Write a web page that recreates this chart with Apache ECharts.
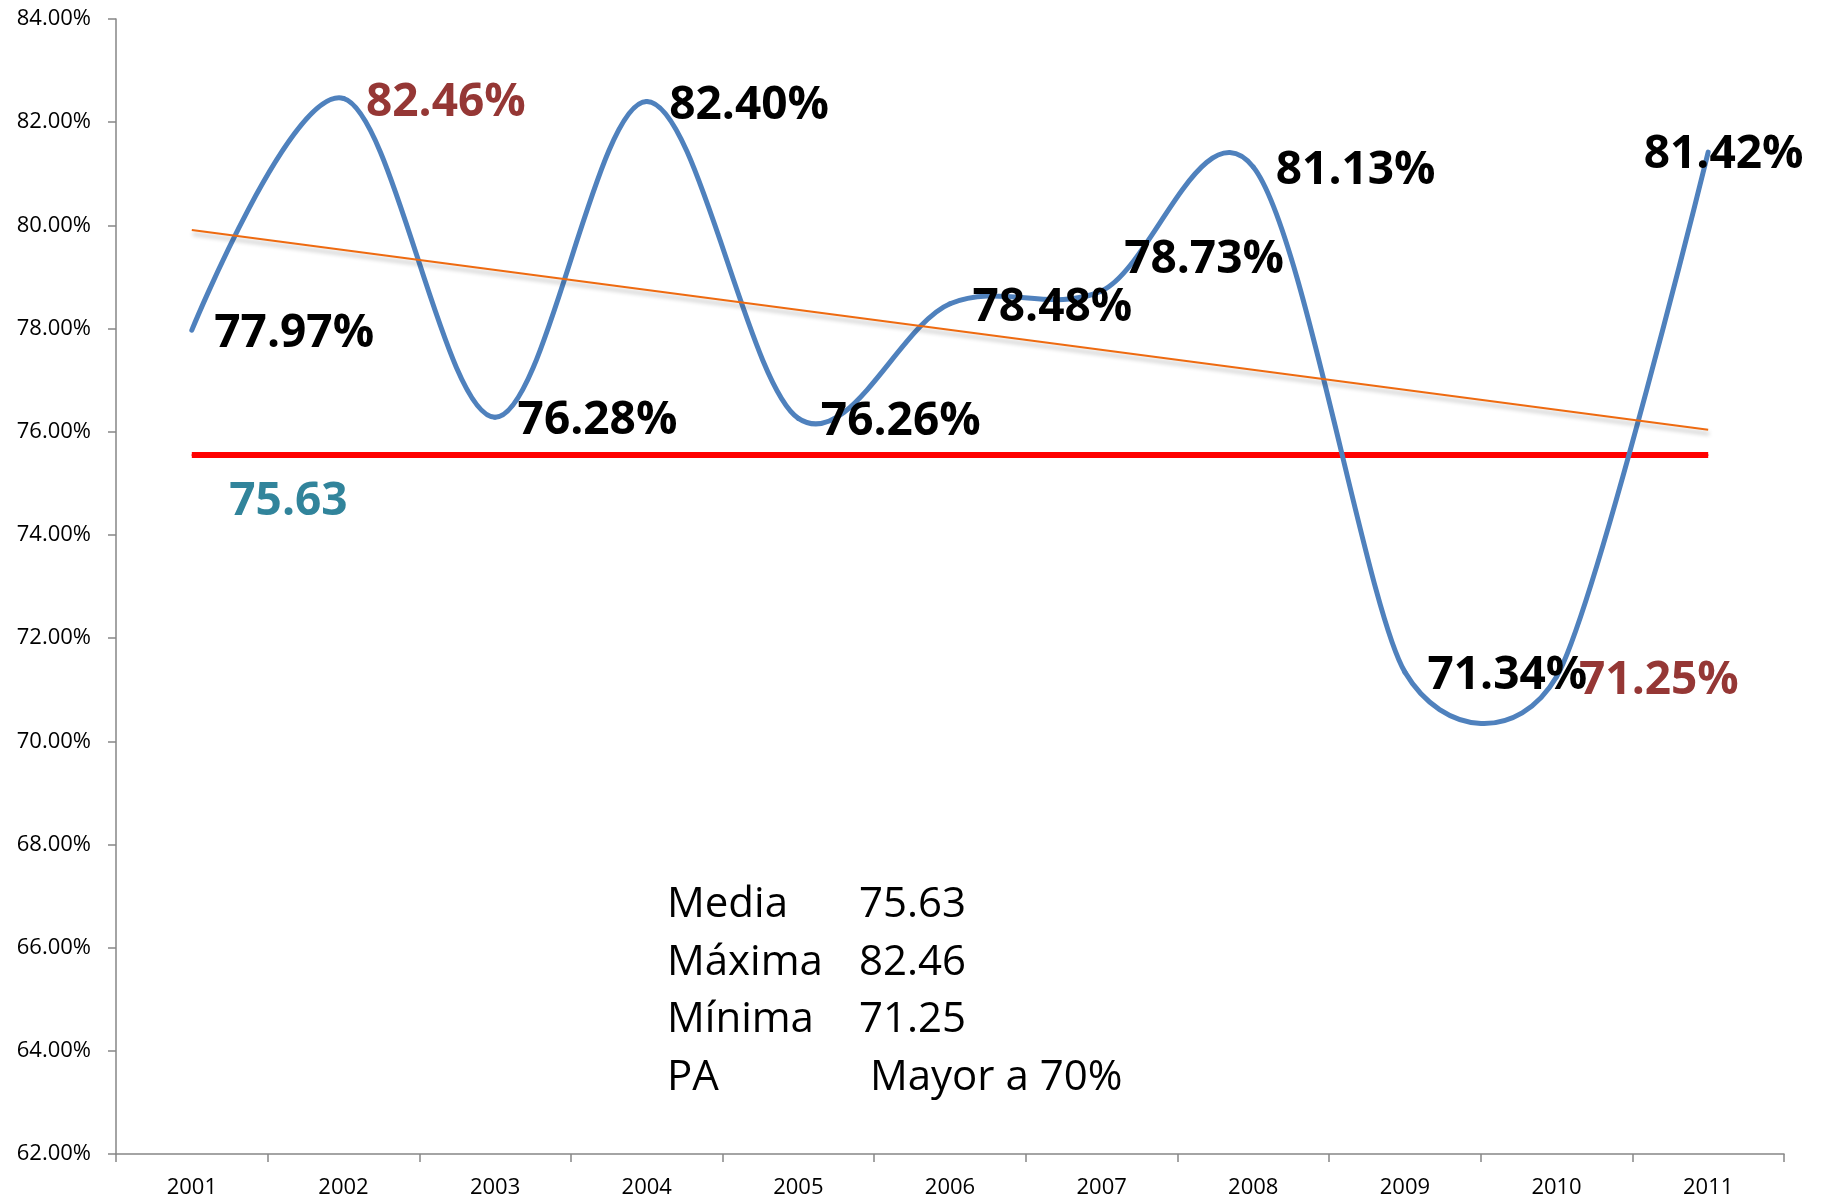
<!DOCTYPE html>
<html>
<head>
<meta charset="utf-8">
<script src="https://cdn.jsdelivr.net/npm/echarts@6/dist/echarts.min.js"></script>
<style>
html,body{margin:0;padding:0;background:#fff;}
#chart{width:1822px;height:1202px;}
</style>
</head>
<body>
<div id="chart"></div>
<script>
const years = ['2001','2002','2003','2004','2005','2006','2007','2008','2009','2010','2011'];
const values = [77.97, 82.46, 76.28, 82.40, 76.26, 78.48, 78.73, 81.13, 71.34, 71.25, 81.42];
const mediaValue = 75.63;      // label text
const mediaLine = 75.55;       // level at which the red line is drawn in the picture
const trendEnds = [79.91, 76.04];
const statNames = ['Media', 'Máxima', 'Mínima', 'PA'];
const statValues = ['75.63', '82.46', '71.25', ' Mayor a 70%'];
const yTicks = [62, 84, 2];

const FONT = '"Open Sans", "DejaVu Sans", sans-serif';
const maxIdx = values.indexOf(Math.max(...values));
const minIdx = values.indexOf(Math.min(...values));

const lineData = values.map((v, i) => {
  const item = { value: v };
  const lbl = {};
  if (i === maxIdx || i === minIdx) lbl.color = '#953735';
  if (i === 6) lbl.offset = [0, -31];
  if (i === 10) lbl.offset = [-87, 3];
  item.label = lbl;
  return item;
});

const mediaData = years.map((y, i) => i === 0 ? {
  value: mediaLine,
  label: {
    show: true, position: 'right', distance: 0, offset: [37, 47],
    formatter: String(mediaValue), color: '#31849b',
    fontFamily: FONT, fontWeight: 'bold', fontSize: 46
  }
} : mediaLine);

// Spreadsheet-style smoothed line: cubic Bezier segments, tension 1/6, limited to half of adjacent segments
function smoothSegment(params, api) {
  const i = params.dataIndex;
  const n = values.length;
  if (i >= n - 1) return { type: 'group', children: [] };
  const P = k => api.coord([k, values[k]]);
  function ctrl(k) {
    const p = P(k);
    if (k === 0 || k === n - 1) return { inc: p, out: p };
    const prev = P(k - 1), next = P(k + 1);
    const vx = next[0] - prev[0], vy = next[1] - prev[1];
    const d02 = Math.hypot(vx, vy) || 1;
    const d01 = Math.hypot(p[0] - prev[0], p[1] - prev[1]);
    const d12 = Math.hypot(next[0] - p[0], next[1] - p[1]);
    let f = 1 / 6;
    if (!(d02 / 6 < d01 / 2 && d02 / 6 < d12 / 2)) f = Math.min(d01, d12) / (2 * d02);
    return { inc: [p[0] - vx * f, p[1] - vy * f], out: [p[0] + vx * f, p[1] + vy * f] };
  }
  const a = P(i), b = P(i + 1);
  const c1 = ctrl(i).out, c2 = ctrl(i + 1).inc;
  return {
    type: 'bezierCurve',
    shape: { x1: a[0], y1: a[1], x2: b[0], y2: b[1], cpx1: c1[0], cpy1: c1[1], cpx2: c2[0], cpy2: c2[1] },
    style: { stroke: '#4f81bd', lineWidth: 5, fill: null, lineCap: 'round' },
    silent: true
  };
}

const chart = echarts.init(document.getElementById('chart'), null, { renderer: 'canvas' });

const graphics = [];
const rowY = [913, 971, 1028, 1086];
statNames.forEach((n, i) => {
  graphics.push({ type: 'text', left: 667, top: rowY[i] - 29, style: { text: n, font: '42px ' + FONT, fill: '#000' } });
  graphics.push({ type: 'text', left: 859, top: rowY[i] - 29, style: { text: statValues[i], font: '42px ' + FONT, fill: '#000' } });
});

chart.setOption({
  animation: false,
  backgroundColor: '#fff',
  grid: { left: 116, right: 38, top: 19, bottom: 48 },
  xAxis: {
    type: 'category', data: years, boundaryGap: true,
    axisLine: { lineStyle: { color: '#868686', width: 1.5 } },
    axisTick: { show: true, length: 8, lineStyle: { color: '#868686', width: 1.5 } },
    axisLabel: { color: '#000', fontFamily: FONT, fontSize: 22, margin: 23 },
    splitLine: { show: false }
  },
  yAxis: {
    type: 'value', min: yTicks[0], max: yTicks[1], interval: yTicks[2],
    axisLine: { show: true, lineStyle: { color: '#868686', width: 1.5 } },
    axisTick: { show: true, length: 8, lineStyle: { color: '#868686', width: 1.5 } },
    axisLabel: { color: '#000', fontFamily: FONT, fontSize: 22, margin: 25,
      formatter: v => v.toFixed(2) + '%' },
    splitLine: { show: false }
  },
  graphic: graphics,
  series: [
    {
      type: 'line', data: mediaData, z: 2,
      symbol: 'circle', symbolSize: 1, showSymbol: true,
      itemStyle: { color: '#ff0000' },
      lineStyle: { color: '#ff0000', width: 6 },
      silent: true
    },
    {
      type: 'custom', z: 3,
      data: values.map((v, i) => [i, v]),
      encode: { x: 0, y: 1 },
      renderItem: smoothSegment,
      markLine: {
        silent: true, symbol: ['none', 'none'], label: { show: false },
        lineStyle: { color: '#ee6a10', width: 2, type: 'solid',
          shadowColor: 'rgba(0,0,0,0.3)', shadowBlur: 4, shadowOffsetY: 4, shadowOffsetX: 1 },
        data: [[
          { coord: [years[0], trendEnds[0]] },
          { coord: [years[years.length - 1], trendEnds[1]] }
        ]]
      }
    },
    {
      type: 'line', data: lineData, z: 4,
      symbol: 'circle', symbolSize: 1, showSymbol: true,
      itemStyle: { color: '#4f81bd' },
      lineStyle: { opacity: 0, width: 0 },
      silent: true,
      label: {
        show: true, position: 'right', distance: 22, offset: [0, 4],
        formatter: p => p.value.toFixed(2) + '%',
        color: '#000', fontFamily: FONT, fontWeight: 'bold', fontSize: 46
      }
    }
  ]
});
</script>
</body>
</html>
